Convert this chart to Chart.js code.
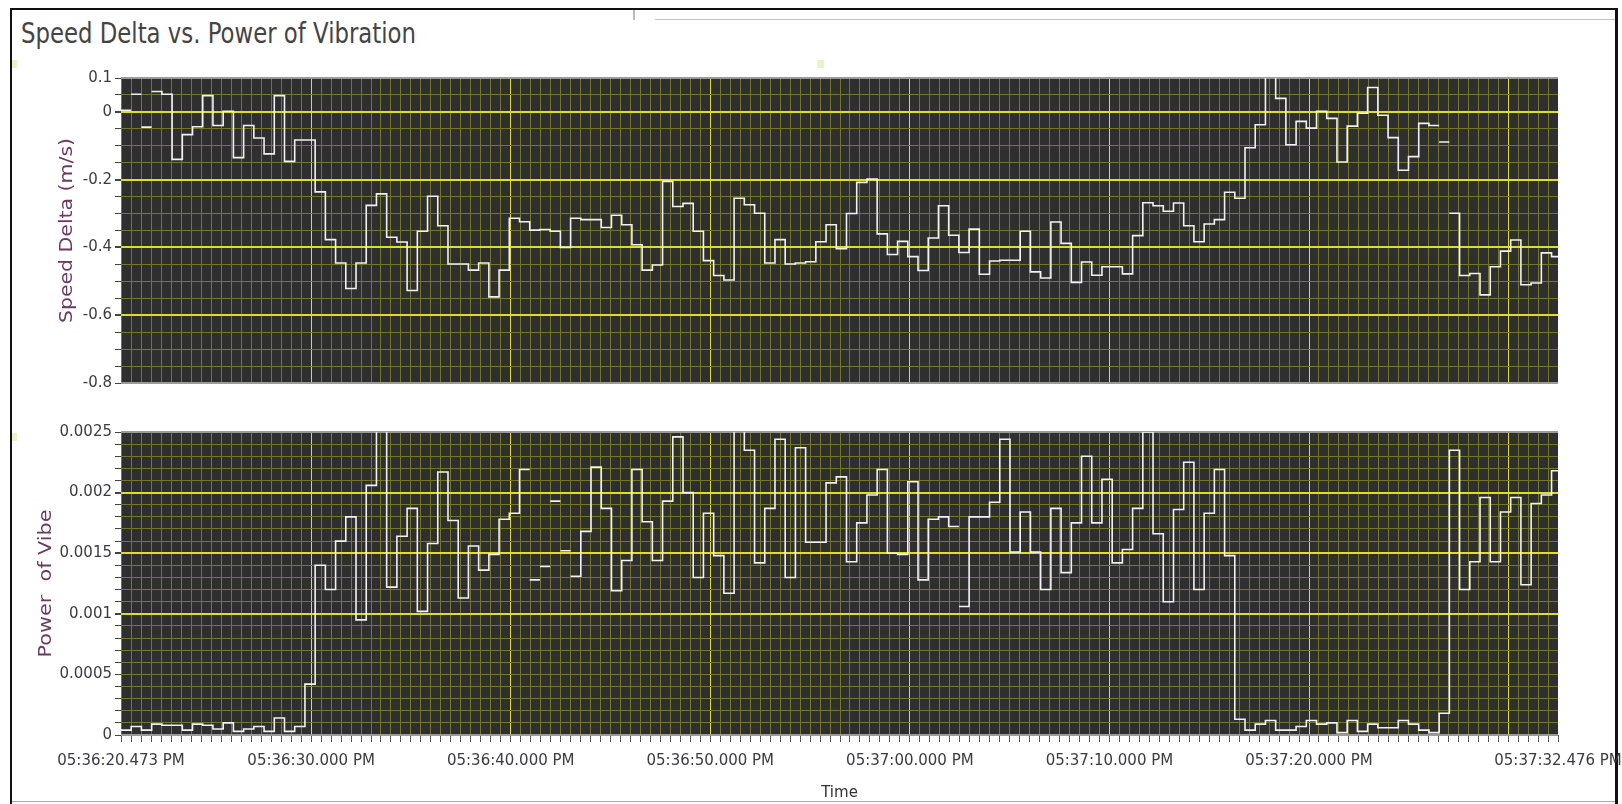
<!DOCTYPE html>
<html>
<head>
<meta charset="utf-8">
<script src="https://cdn.jsdelivr.net/npm/chart.js@4.4.1/dist/chart.umd.min.js"></script>
<style>
  html, body { margin: 0; padding: 0; background: #fff; overflow: hidden; }
  body { width: 1622px; height: 804px; position: relative; }
  canvas { position: absolute; left: 0; }
  #speedChart { top: 60px; }
  #vibeChart { top: 400px; }
  #title {
    position: absolute; left: 21px; top: 20px; margin: 0;
    font: 28px 'DejaVu Sans', sans-serif; line-height: 28px;
    color: #444; white-space: nowrap; transform-origin: 0 0;
  }
  .frame { position: absolute; background: #111; }
  .speck { position: absolute; background: #e3f6c8; }
</style>
</head>
<body>
<div class="frame" style="left:10px; top:8px; width:1608px; height:2px;"></div>
<div class="frame" style="left:10px; top:8px; width:2px; height:796px;"></div>
<div class="frame" style="left:1615px; top:8px; width:3px; height:796px;"></div>
<div class="frame" style="left:12px; top:801px; width:1603px; height:1px; background:#aaa;"></div>
<div class="frame" style="left:633px; top:10px; width:2px; height:10px; background:#bbb;"></div>
<div class="frame" style="left:655px; top:19px; width:960px; height:1px; background:#c4c4c4;"></div>
<div class="speck" style="left:12px; top:60px; width:5px; height:8px;"></div>
<div class="speck" style="left:817px; top:60px; width:7px; height:8px;"></div>
<div class="speck" style="left:12px; top:433px; width:5px; height:8px;"></div>
<h1 id="title">Speed Delta vs. Power of Vibration</h1>
<canvas id="speedChart" width="1622" height="340"></canvas>
<canvas id="vibeChart" width="1622" height="404"></canvas>
<script>
// samples are seconds after 05:36:00 PM, one every ~0.512 s
const SAMPLE_START = 20.473;
const SAMPLE_STEP = 0.512;

const timeTickLabels = [20.473, 30, 40, 50, 60, 70, 80, 92.476];
const speedTickLabels = [0.1, 0, -0.2, -0.4, -0.6, -0.8];
const vibeTickLabels = [0.0025, 0.002, 0.0015, 0.001, 0.0005, 0];

// Speed Delta (m/s), one value per sample
const speedDelta = [
  0.005, 0.052, -0.045, 0.06, 0.052, -0.14, -0.067, -0.044, 0.048, -0.04,
  0.002, -0.135, -0.04, -0.077, -0.124, 0.048, -0.146, -0.083, -0.083, -0.236,
  -0.377, -0.446, -0.521, -0.446, -0.276, -0.242, -0.37, -0.384, -0.527, -0.352,
  -0.249, -0.336, -0.449, -0.449, -0.467, -0.446, -0.546, -0.467, -0.314, -0.324,
  -0.349, -0.347, -0.352, -0.40, -0.314, -0.318, -0.318, -0.341, -0.305, -0.333,
  -0.392, -0.467, -0.452, -0.205, -0.279, -0.27, -0.352, -0.439, -0.483, -0.496,
  -0.255, -0.274, -0.299, -0.446, -0.377, -0.449, -0.446, -0.442, -0.383, -0.333,
  -0.404, -0.30, -0.208, -0.198, -0.36, -0.421, -0.382, -0.427, -0.468, -0.372,
  -0.277, -0.364, -0.415, -0.346, -0.479, -0.44, -0.438, -0.438, -0.352, -0.472,
  -0.49, -0.325, -0.388, -0.503, -0.443, -0.482, -0.457, -0.457, -0.478, -0.365,
  -0.268, -0.277, -0.293, -0.269, -0.336, -0.383, -0.331, -0.318, -0.237, -0.255,
  -0.106, -0.038, 0.13, 0.04, -0.097, -0.028, -0.048, 0.002, -0.019, -0.148,
  -0.042, -0.004, 0.072, -0.01, -0.076, -0.172, -0.132, -0.034, -0.04, -0.089,
  -0.299, -0.483, -0.477, -0.54, -0.457, -0.411, -0.378, -0.51, -0.505, -0.416,
  -0.427
];

// Power of Vibe, one value per sample
const powerOfVibe = [
  0.00004, 0.00007, 0.00004, 0.00009, 0.00008, 0.00008, 0.00004, 0.00009, 0.00008, 0.00005,
  0.0001, 0.00003, 0.00005, 0.00007, 0.00003, 0.00014, 0.00003, 0.00007, 0.00042, 0.0014,
  0.0012, 0.0016, 0.0018, 0.00095, 0.00206, 0.0028, 0.00122, 0.00164, 0.00187, 0.00102,
  0.00158, 0.00217, 0.00177, 0.00113, 0.00156, 0.00136, 0.00149, 0.00178, 0.00183, 0.00219,
  0.00128, 0.00139, 0.00193, 0.00152, 0.00131, 0.00168, 0.00221, 0.00187, 0.00119, 0.00144,
  0.00219, 0.00176, 0.00144, 0.00193, 0.00246, 0.002, 0.0013, 0.00183, 0.00148, 0.00117,
  0.0028, 0.00235, 0.00142, 0.00187, 0.00244, 0.0013, 0.00237, 0.00159, 0.00159, 0.00208,
  0.00213, 0.00143, 0.00175, 0.00198, 0.00219, 0.0015, 0.00149, 0.00209, 0.00128, 0.00178,
  0.0018, 0.00172, 0.00106, 0.0018, 0.0018, 0.00192, 0.00244, 0.00151, 0.00184, 0.00151,
  0.0012, 0.00187, 0.00134, 0.00175, 0.0023, 0.00175, 0.00211, 0.00142, 0.00153, 0.00187,
  0.0025, 0.00166, 0.0011, 0.00186, 0.00225, 0.0012, 0.00183, 0.00219, 0.00148, 0.00013,
  0.00004, 0.00009, 0.00012, 0.00004, 0.00004, 0.00007, 0.00012, 0.00009, 0.0001, 0.00002,
  0.00012, 0.00003, 0.00009, 0.00006, 0.00006, 0.00012, 0.00009, 0.00004, 0.00002, 0.00018,
  0.00235, 0.0012, 0.00143, 0.00196, 0.00143, 0.00184, 0.00196, 0.00124, 0.00191, 0.00198,
  0.00218
];

// samples where the trace is not joined to the previous one
const speedBreaks = [1, 2, 3, 129, 130];
const vibeBreaks = [40, 41, 42, 43, 44, 82];

const PLOT_BG = '#2f2f2f';
const GRID_MINOR = 'rgb(118,118,42)';
const GRID_MAJOR = 'rgb(222,222,40)';
const EDGE = '#9a9a9a';
const LABEL_COLOR = '#3b3b45';
const TITLE_COLOR = '#6a3a62';
const X_MIN = timeTickLabels[0];
const X_MAX = timeTickLabels[timeTickLabels.length - 1];

// fit the big title to the width it has in the screenshot
const titleEl = document.getElementById('title');
titleEl.style.transform = `scaleX(${395 / titleEl.getBoundingClientRect().width})`;

function near(a, b) { return Math.abs(a - b) < 1e-9; }

function stepPoints(values, breaks) {
  const pts = [];
  values.forEach((v, i) => {
    const t = SAMPLE_START + i * SAMPLE_STEP;
    if (breaks.includes(i)) pts.push({ x: t, y: null });
    pts.push({ x: t, y: v }, { x: t + SAMPLE_STEP, y: v });
  });
  return pts;
}

function fmtTime(s) {
  const m = 36 + Math.floor(s / 60);
  const sec = (s - 60 * Math.floor(s / 60)).toFixed(3).padStart(6, '0');
  return `05:${String(m).padStart(2, '0')}:${sec} PM`;
}

function timeTicks() {
  const out = [X_MIN];
  for (let k = 41; k <= 184; k++) out.push(k / 2);
  out.push(X_MAX);
  return out.map(v => ({ value: v }));
}

function xGridColor(ctx) {
  const v = ctx.tick.value;
  if (near(v, X_MIN) || near(v, X_MAX)) return 'rgba(0,0,0,0)';
  return near(v, Math.round(v / 10) * 10) ? GRID_MAJOR : GRID_MINOR;
}

const plotFrame = {
  id: 'plotFrame',
  beforeDraw(chart) {
    const { ctx, chartArea: a } = chart;
    ctx.save();
    ctx.fillStyle = PLOT_BG;
    ctx.fillRect(a.left, a.top, a.right - a.left, a.bottom - a.top);
    ctx.restore();
  },
  beforeDatasetsDraw(chart) {
    const { ctx, chartArea: a } = chart;
    ctx.save();
    ctx.strokeStyle = EDGE;
    ctx.lineWidth = 2;
    ctx.beginPath();
    ctx.moveTo(a.left, a.top); ctx.lineTo(a.right, a.top);
    ctx.moveTo(a.left, a.bottom); ctx.lineTo(a.right, a.bottom);
    ctx.stroke();
    ctx.restore();
  }
};

// rotated y title, stretched along its length like in the screenshot
const sideTitle = {
  id: 'sideTitle',
  afterDraw(chart, args, opts) {
    const { ctx, chartArea: a } = chart;
    ctx.save();
    ctx.font = `${opts.size}px 'DejaVu Sans', sans-serif`;
    ctx.fillStyle = TITLE_COLOR;
    ctx.textAlign = 'center';
    ctx.textBaseline = 'middle';
    ctx.translate(opts.x, (a.top + a.bottom) / 2);
    ctx.rotate(-Math.PI / 2);
    ctx.scale(opts.length / ctx.measureText(opts.text).width, 1);
    ctx.fillText(opts.text, 0, 0);
    ctx.restore();
  }
};

function makeChart(id, cfg) {
  const yTickValues = [];
  for (let k = cfg.kMin; k <= cfg.kMax; k++) yTickValues.push(Math.round(k * cfg.step * 1e6) / 1e6);

  return new Chart(document.getElementById(id), {
    type: 'line',
    data: {
      datasets: [{
        data: stepPoints(cfg.values, cfg.breaks),
        borderColor: '#f2f2f2',
        borderWidth: 1.6,
        pointRadius: 0,
        tension: 0,
        spanGaps: false
      }]
    },
    options: {
      responsive: false,
      animation: false,
      events: [],
      layout: { padding: { top: cfg.padTop, right: 64, bottom: cfg.padBottom, left: cfg.padLeft } },
      plugins: {
        legend: { display: false },
        tooltip: { enabled: false },
        sideTitle: { text: cfg.title, x: cfg.titleX, size: 17, length: cfg.titleLength }
      },
      scales: {
        x: {
          type: 'linear',
          min: X_MIN,
          max: X_MAX,
          afterBuildTicks: scale => { scale.ticks = timeTicks(); },
          afterFit: scale => {
            scale.height = cfg.xHeight;
            scale.paddingLeft = 0;
            scale.paddingRight = 0;
          },
          border: { display: false },
          grid: {
            color: xGridColor,
            lineWidth: 1,
            drawTicks: cfg.showTime,
            tickLength: 7,
            tickColor: '#555'
          },
          ticks: {
            display: cfg.showTime,
            autoSkip: false,
            maxRotation: 0,
            minRotation: 0,
            padding: 10,
            color: LABEL_COLOR,
            font: { family: "'DejaVu Sans', sans-serif", size: 15 },
            callback: v => {
              const hit = timeTickLabels.find(t => near(t, v));
              return hit === undefined ? '' : fmtTime(hit);
            }
          },
          title: {
            display: cfg.showTime,
            text: 'Time',
            color: '#333',
            padding: { top: 0, bottom: 2 },
            font: { family: "'DejaVu Sans', sans-serif", size: 15 }
          }
        },
        y: {
          type: 'linear',
          min: cfg.min,
          max: cfg.max,
          afterBuildTicks: scale => { scale.ticks = yTickValues.map(v => ({ value: v })); },
          afterFit: scale => {
            scale.width = 121 - cfg.padLeft;
            scale.paddingTop = 0;
            scale.paddingBottom = 0;
          },
          border: { display: false },
          grid: {
            color: ctx => {
              const v = ctx.tick.value;
              if (near(v, cfg.min) || near(v, cfg.max)) return EDGE;
              return cfg.major.some(m => near(m, v)) ? GRID_MAJOR : GRID_MINOR;
            },
            lineWidth: ctx => cfg.major.some(m => near(m, ctx.tick.value)) ? 2 : 1,
            drawTicks: true,
            tickLength: 6,
            tickColor: '#444'
          },
          ticks: {
            autoSkip: false,
            padding: 3,
            color: LABEL_COLOR,
            font: { family: "'DejaVu Sans', sans-serif", size: 15 },
            callback: v => {
              const hit = cfg.labels.find(t => near(t, v));
              return hit === undefined ? '' : String(hit);
            }
          }
        }
      }
    },
    plugins: [plotFrame, sideTitle]
  });
}

document.addEventListener('DOMContentLoaded', () => {
  window.speedChart = makeChart('speedChart', {
    values: speedDelta,
    breaks: speedBreaks,
    min: -0.8, max: 0.1, step: 0.05, kMin: -16, kMax: 2,
    labels: speedTickLabels,
    major: [0, -0.2, -0.4, -0.6],
    title: 'Speed Delta (m/s)',
    titleX: 68, titleLength: 185,
    padTop: 18, padBottom: 17, padLeft: 40,
    xHeight: 0,
    showTime: false
  });

  window.vibeChart = makeChart('vibeChart', {
    values: powerOfVibe,
    breaks: vibeBreaks,
    min: 0, max: 0.0025, step: 0.0001, kMin: 0, kMax: 25,
    labels: vibeTickLabels,
    major: [0.001, 0.0015, 0.002],
    title: 'Power  of Vibe',
    titleX: 47, titleLength: 148,
    padTop: 32, padBottom: 0, padLeft: 40,
    xHeight: 69,
    showTime: true
  });
});
</script>
</body>
</html>
